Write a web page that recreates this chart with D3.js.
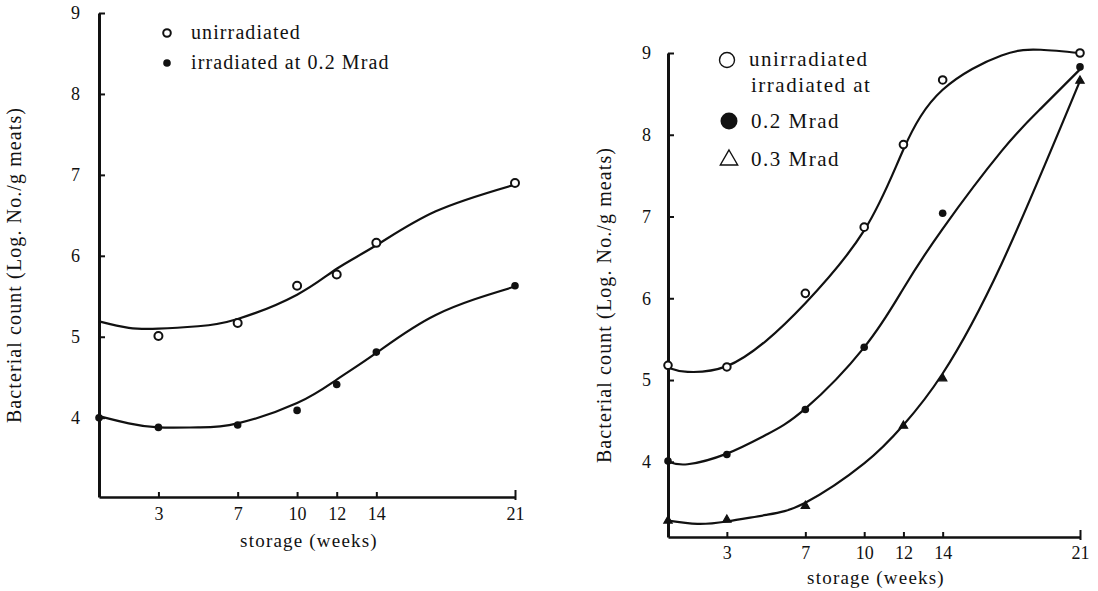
<!DOCTYPE html>
<html>
<head>
<meta charset="utf-8">
<script src="https://cdn.jsdelivr.net/npm/d3@7"></script>
<style>
  body { margin: 0; background: #fff; }
  svg { display: block; }
  text { font-family: "Liberation Serif", "Times New Roman", serif; fill: #111; }
  .axis .domain { stroke: #111; }
  .axis line { stroke: #111; stroke-width: 2; }
  .fit { fill: none; stroke: #111; stroke-width: 2.2; }
</style>
</head>
<body>
<script>
(function () {

    //tick labels and categories
    var weekTicks = [3, 7, 10, 12, 14, 21];
    var countTicks = [4, 5, 6, 7, 8, 9];

    //left panel: measured points
    var leftUnirrWeeks = [3, 7, 10, 12, 14, 21];
    var leftUnirr = [5.01, 5.17, 5.63, 5.77, 6.16, 6.9];
    var leftIrrWeeks = [0, 3, 7, 10, 12, 14, 21];
    var leftIrr = [4.0, 3.88, 3.91, 4.09, 4.41, 4.81, 5.63];

    //left panel: hand drawn fitted curves
    var leftFitWeeks = [0, 1.5, 3, 5, 7, 10, 12, 14, 17, 21];
    var leftUnirrFit = [5.19, 5.11, 5.1, 5.13, 5.22, 5.52, 5.84, 6.13, 6.55, 6.88];
    var leftIrrFit = [4.02, 3.93, 3.88, 3.88, 3.93, 4.18, 4.47, 4.8, 5.27, 5.62];

    //right panel: measured points
    var rightUnirrWeeks = [0, 3, 7, 10, 12, 14, 21];
    var rightUnirr = [5.18, 5.16, 6.06, 6.87, 7.88, 8.67, 9.0];
    var right02Weeks = [0, 3, 7, 10, 14, 21];
    var right02 = [4.01, 4.09, 4.64, 5.4, 7.04, 8.83];
    var right03Weeks = [0, 3, 7, 12, 14, 21];
    var right03 = [3.28, 3.29, 3.46, 4.44, 5.02, 8.66];

    //right panel: hand drawn fitted curves
    var rightFitWeeks = [0, 1, 3, 5, 7, 10, 12, 14, 17, 19, 21];
    var rightUnirrFit = [5.15, 5.1, 5.17, 5.48, 5.94, 6.83, 7.82, 8.55, 8.97, 9.04, 9.0];
    var right02Fit = [4.0, 3.97, 4.1, 4.33, 4.65, 5.4, 6.12, 6.85, 7.8, 8.32, 8.8];
    var right03FitWeeks = [0, 1.5, 3, 5, 7, 10, 12, 14, 17, 21];
    var right03Fit = [3.28, 3.24, 3.27, 3.35, 3.5, 3.98, 4.45, 5.08, 6.42, 8.66];

    var yTitle = "Bacterial count (Log. No./g meats)";
    var xTitle = "storage (weeks)";

    var svg = d3.select("body")
        .append("svg")
        .attr("width", 1098)
        .attr("height", 591);

    //---------- left panel ----------
    var left = {
        x: d3.scaleLinear().domain([0, 21]).range([99, 515]),
        y: d3.scaleLinear().domain([3.02, 9]).range([497, 13]),
        tickFont: 18, xPad: 10, yPad: 19,
        yTitleX: 21, xTitleY: 547
    };
    drawFrame(left);

    drawCurve(left, leftFitWeeks, leftUnirrFit);
    drawCurve(left, leftFitWeeks, leftIrrFit);
    drawPoints(left, leftUnirrWeeks, leftUnirr, "open", 4);
    drawPoints(left, leftIrrWeeks, leftIrr, "filled", 3.8);

    //left legend
    var legL = svg.append("g").attr("class", "legend");
    legL.append("circle").attr("cx", 167).attr("cy", 33).attr("r", 3.8)
        .attr("fill", "#fff").attr("stroke", "#111").attr("stroke-width", 2);
    legL.append("text").attr("x", 191).attr("y", 39).style("font-size", "20px")
        .attr("letter-spacing", 1.1).text("unirradiated");
    legL.append("circle").attr("cx", 167).attr("cy", 63).attr("r", 3.8).attr("fill", "#111");
    legL.append("text").attr("x", 191).attr("y", 69).style("font-size", "20px")
        .attr("letter-spacing", 1.1).text("irradiated at 0.2 Mrad");

    //---------- right panel ----------
    var right = {
        x: d3.scaleLinear().domain([0, 21]).range([668, 1080]),
        y: d3.scaleLinear().domain([3.08, 9]).range([537, 53]),
        tickFont: 18, xPad: 9, yPad: 17,
        yTitleX: 611, xTitleY: 584
    };
    drawFrame(right);

    drawCurve(right, rightFitWeeks, rightUnirrFit);
    drawCurve(right, rightFitWeeks, right02Fit);
    drawCurve(right, right03FitWeeks, right03Fit);
    drawPoints(right, rightUnirrWeeks, rightUnirr, "open", 3.8);
    drawPoints(right, right02Weeks, right02, "filled", 3.8);
    drawPoints(right, right03Weeks, right03, "triangle", 4.5);

    //right legend
    var legR = svg.append("g").attr("class", "legend");
    legR.append("circle").attr("cx", 727).attr("cy", 60).attr("r", 7.5)
        .attr("fill", "#fff").attr("stroke", "#111").attr("stroke-width", 1.4);
    legR.append("text").attr("x", 749).attr("y", 66).style("font-size", "21px")
        .attr("letter-spacing", 1.5).text("unirradiated");
    legR.append("text").attr("x", 751).attr("y", 92).style("font-size", "21px")
        .attr("letter-spacing", 1.5).text("irradiated at");
    legR.append("circle").attr("cx", 729).attr("cy", 121).attr("r", 8.5).attr("fill", "#111");
    legR.append("text").attr("x", 751).attr("y", 128).style("font-size", "21px")
        .attr("letter-spacing", 1.5).text("0.2 Mrad");
    legR.append("path")
        .attr("d", d3.symbol(d3.symbolTriangle, 130)())
        .attr("transform", "translate(729,160)")
        .attr("fill", "#fff").attr("stroke", "#111").attr("stroke-width", 1.4);
    legR.append("text").attr("x", 751).attr("y", 166).style("font-size", "21px")
        .attr("letter-spacing", 1.5).text("0.3 Mrad");

    //axes, ticks and titles of one panel
    function drawFrame(p) {
        var x0 = p.x.range()[0],
            yBottom = p.y.range()[0],
            yTop = p.y.range()[1];

        //vertical axis, ticks point inward
        var yAxis = d3.axisLeft(p.y)
            .tickValues(countTicks)
            .tickSizeInner(-6)
            .tickSizeOuter(0)
            .tickPadding(p.yPad)
            .tickFormat(d3.format("d"));
        var gy = svg.append("g")
            .attr("class", "axis")
            .attr("transform", "translate(" + x0 + ",0)")
            .call(yAxis);
        gy.select(".domain").attr("stroke-width", 3);
        gy.selectAll("text").style("font-size", p.tickFont + "px");

        //horizontal axis, ticks point up
        var xAxis = d3.axisBottom(p.x)
            .tickValues(weekTicks)
            .tickSizeInner(-5)
            .tickSizeOuter(0)
            .tickPadding(p.xPad)
            .tickFormat(d3.format("d"));
        var gx = svg.append("g")
            .attr("class", "axis")
            .attr("transform", "translate(0," + yBottom + ")")
            .call(xAxis);
        gx.select(".domain").attr("stroke-width", 2.6);
        gx.selectAll("text").style("font-size", p.tickFont + "px");
        //end mark at week 21 crosses the line
        gx.selectAll(".tick").filter(function (d) { return d === 21; })
            .select("line").attr("y1", 3).attr("y2", -7);

        //axis titles
        svg.append("text")
            .attr("transform", "translate(" + p.yTitleX + "," + ((yTop + yBottom) / 2 + 10) + ") rotate(-90)")
            .attr("text-anchor", "middle")
            .style("font-size", "20px")
            .attr("letter-spacing", 1.1)
            .text(yTitle);
        svg.append("text")
            .attr("x", (p.x(7) + p.x(14)) / 2 + 2)
            .attr("y", p.xTitleY)
            .attr("text-anchor", "middle")
            .style("font-size", "19px")
            .attr("letter-spacing", 1.2)
            .text(xTitle);
    }

    function drawCurve(p, xs, ys) {
        var line = d3.line()
            .x(function (d) { return p.x(d[0]); })
            .y(function (d) { return p.y(d[1]); })
            .curve(d3.curveNatural);
        svg.append("path")
            .datum(d3.zip(xs, ys))
            .attr("class", "fit")
            .attr("d", line);
    }

    function drawPoints(p, xs, ys, kind, r) {
        var pts = svg.append("g").selectAll("path")
            .data(d3.zip(xs, ys))
            .enter();
        if (kind === "triangle") {
            pts.append("path")
                .attr("d", d3.symbol(d3.symbolTriangle, 30)())
                .attr("transform", function (d) {
                    return "translate(" + p.x(d[0]) + "," + p.y(d[1]) + ")";
                })
                .attr("fill", "#111")
                .attr("stroke", "#111")
                .attr("stroke-width", 1.2);
        } else {
            pts.append("circle")
                .attr("cx", function (d) { return p.x(d[0]); })
                .attr("cy", function (d) { return p.y(d[1]); })
                .attr("r", r)
                .attr("fill", kind === "open" ? "#fff" : "#111")
                .attr("stroke", "#111")
                .attr("stroke-width", kind === "open" ? 2 : 0);
        }
    }

})();
</script>
</body>
</html>
